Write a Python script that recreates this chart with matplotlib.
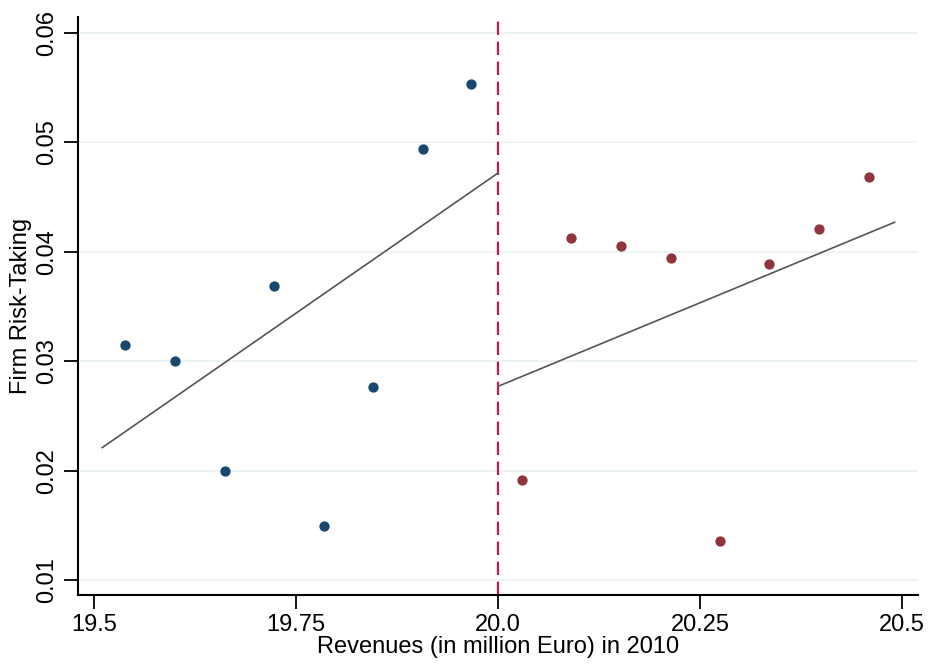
import numpy as np
import matplotlib.pyplot as plt

plt.rcParams['font.family'] = ['Liberation Sans', 'DejaVu Sans']

# bin means left of cutoff
x_left = [19.538, 19.600, 19.662, 19.723, 19.785, 19.845, 19.907, 19.967]
y_left = [0.0315, 0.0300, 0.0200, 0.0369, 0.0149, 0.0276, 0.0494, 0.0553]
# bin means right of cutoff
x_right = [20.030, 20.090, 20.152, 20.214, 20.275, 20.336, 20.397, 20.459]
y_right = [0.0191, 0.0413, 0.0405, 0.0394, 0.0136, 0.0389, 0.0421, 0.0468]

# fitted lines (end points)
fit_left_x = [19.510, 20.0]
fit_left_y = [0.0221, 0.0472]
fit_right_x = [20.0, 20.491]
fit_right_y = [0.0277, 0.0427]

cutoff = 20.0

fig = plt.figure(figsize=(9.33, 6.66), dpi=100)
ax = fig.add_axes([0.0836, 0.1066, 0.9004, 0.8679])

ax.set_xlim(19.480, 20.520)
ax.set_ylim(0.00863, 0.06146)

yt = [0.01, 0.02, 0.03, 0.04, 0.05, 0.06]
for v in yt:
    ax.axhline(v, color='#eaf2f3', linewidth=1.2, zorder=0)

ax.plot(fit_left_x, fit_left_y, color='#555555', linewidth=1.2, zorder=2)
ax.plot(fit_right_x, fit_right_y, color='#555555', linewidth=1.2, zorder=2)
ax.axvline(cutoff, color='#c8184a', linewidth=1.6, linestyle=(0, (6, 3)), zorder=1)

ax.scatter(x_left, y_left, s=55, color='#1a476f', zorder=3, linewidths=0)
ax.scatter(x_right, y_right, s=55, color='#90353b', zorder=3, linewidths=0)

ax.set_xticks([19.5, 19.75, 20.0, 20.25, 20.5])
ax.set_xticklabels(['19.5', '19.75', '20.0', '20.25', '20.5'])
ax.set_yticks(yt)
ax.set_yticklabels(['0.01', '0.02', '0.03', '0.04', '0.05', '0.06'],
                   rotation=90, va='center')

ax.tick_params(axis='both', direction='out', length=10, width=1.3,
               labelsize=17, color='black', pad=4)
for side in ['top', 'right']:
    ax.spines[side].set_visible(False)
for side in ['left', 'bottom']:
    ax.spines[side].set_linewidth(1.5)

ax.set_xlabel('Revenues (in million Euro) in 2010', fontsize=17, labelpad=0)
ax.set_ylabel('Firm Risk-Taking', fontsize=17, labelpad=3)

fig.savefig('out.png', dpi=100)
